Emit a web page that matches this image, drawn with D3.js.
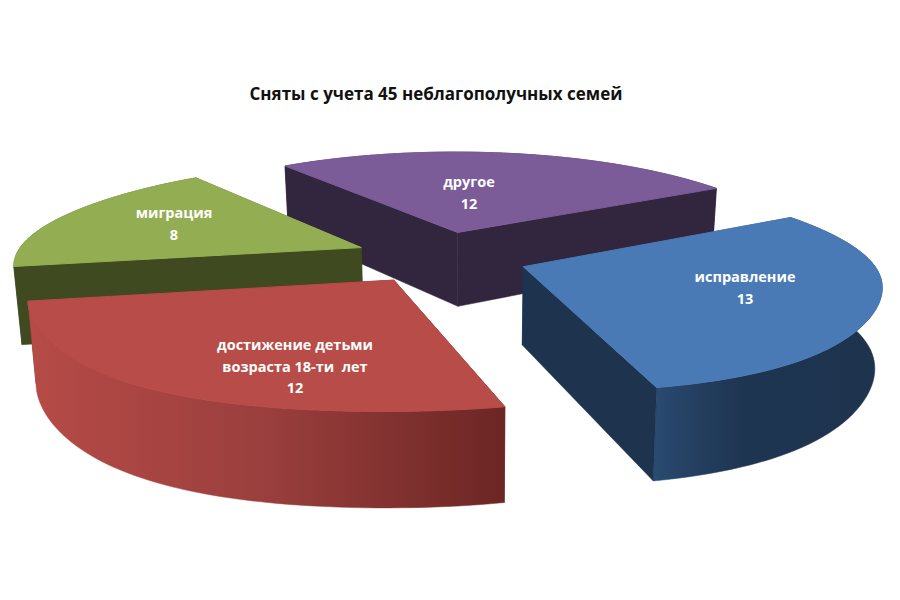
<!DOCTYPE html>
<html><head><meta charset="utf-8">
<script src="https://cdn.jsdelivr.net/npm/d3@7"></script>
<style>html,body{margin:0;background:#fff}svg{display:block}</style></head>
<body><svg id="c" width="900" height="600"></svg>
<script>
const titleText = "Сняты с учета 45 неблагополучных семей";
const categories = ["исправление","достижение детьми возраста 18-ти  лет","миграция","другое"];
const values = [13,12,8,12];
const labelLines = [["исправление"],["достижение детьми","возраста 18-ти  лет"],["миграция"],["другое"]];
const topColors = ["#4a7ab5","#b84c48","#93ae52","#7b5c98"];
const sideColors = ["#1d334e","#6f2725","#3f4a20","#32263f"];
const arcStops = [
  [[0,"#2b4b72"],[0.2,"#233e5f"],[0.4,"#1e3551"],[1,"#1d334e"]],
  [[0,"#b64b47"],[0.5,"#9a3f3d"],[1,"#6c2624"]],
  [[0,"#3f4a20"],[1,"#3f4a20"]],
  [[0,"#32263f"],[1,"#32263f"]]
];
const labelX = [745,295,174,469];
const labelY = [282,350,218,187];

// camera and pie geometry
const firstAngle = 59.5*Math.PI/180, R = 337, sideBulge = 0.028, frontBulge = 0.04, explode = 87, tilt = 0.3, persp = 0.00049;
const cx = 441, cy = 257, thick = 77, floorShrink = 0.982, vanishX = 470;

const svg = d3.select("#c");
const defs = svg.append("defs");
const pie = d3.pie().sort(null).startAngle(firstAngle).endAngle(firstAngle+2*Math.PI);
const arcs = pie(values);

// Plane point (X to the right, Y toward viewer) -> screen, on top (z=0) or floor (z=1)
function project(X,Y,z){
  const s = 1/(1-persp*Y);
  let x = cx + X*s, y = cy + Y*tilt*s;
  if(z){ x = vanishX+(x-vanishX)*floorShrink; y += thick*s; }
  return [x,y];
}
const line = d3.line();
const n = 60;
const order = [3,2,0,1];
order.forEach(i=>{
  const a = arcs[i], mid = (a.startAngle+a.endAngle)/2;
  const ox = explode*Math.sin(mid), oy = -explode*Math.cos(mid);
  const rim = d3.range(n+1).map(k=>{
    const t = a.startAngle+(a.endAngle-a.startAngle)*k/n;
    const r = R*(1+sideBulge*Math.pow(Math.sin(t),8)
      +frontBulge*Math.pow(Math.sin(2*t),2)*Math.max(0,-Math.cos(t)));
    return [ox+r*Math.sin(t), oy-r*Math.cos(t)];
  });
  const apex = [ox,oy];
  const P = (p,z)=>project(p[0],p[1],z);
  const g = svg.append("g").attr("class","slice");
  const rimPts = rim.map(p=>P(p,1));
  const xs = rimPts.concat(rim.map(p=>P(p,0))).map(p=>p[0]);
  const id = "grad"+i;
  const grad = defs.append("linearGradient").attr("id",id).attr("gradientUnits","userSpaceOnUse")
    .attr("x1",d3.min(xs)).attr("x2",d3.max(xs)).attr("y1",0).attr("y2",0);
  // blue's wall shades from its front corner to the right; red's from left to right
  if(i===0) grad.attr("x1",rimPts[n][0]);
  arcStops[i].forEach(s=>grad.append("stop").attr("offset",s[0]).attr("stop-color",s[1]));
  const wall = (pts,fill)=>g.append("path")
    .attr("d",line(pts.map(p=>P(p,0)).concat(pts.slice().reverse().map(p=>P(p,1))))+"Z")
    .attr("fill",fill).attr("stroke",fill).attr("stroke-width",0.5);
  const walls = [
    {pts:[apex,rim[0]],fill:sideColors[i],d:(apex[1]+rim[0][1])/2},
    {pts:[apex,rim[n]],fill:sideColors[i],d:(apex[1]+rim[n][1])/2},
    {pts:rim,fill:`url(#${id})`,d:d3.mean(rim,p=>p[1])}
  ].sort((p,q)=>p.d-q.d);
  walls.forEach(w=>wall(w.pts,w.fill));
  g.append("path")
    .attr("d",line([apex].concat(rim).map(p=>P(p,0)))+"Z")
    .attr("fill",topColors[i]).attr("stroke",topColors[i]).attr("stroke-width",1);
});

const lh = 21.5;
values.forEach((v,i)=>{
  const t = svg.append("text").attr("text-anchor","middle")
    .attr("font-family","'Open Sans',sans-serif").attr("font-weight",700).attr("font-size",14.5)
    .attr("fill","#fff");
  labelLines[i].concat([String(v)]).forEach((s,k)=>{
    t.append("tspan").attr("x",labelX[i]).attr("y",labelY[i]+k*lh).attr("xml:space","preserve").text(s);
  });
});
svg.append("text").attr("x",436).attr("y",100).attr("text-anchor","middle")
  .attr("font-family","'Open Sans',sans-serif").attr("font-weight",700).attr("font-size",17)
  .attr("fill","#111").text(titleText);
</script></body></html>
